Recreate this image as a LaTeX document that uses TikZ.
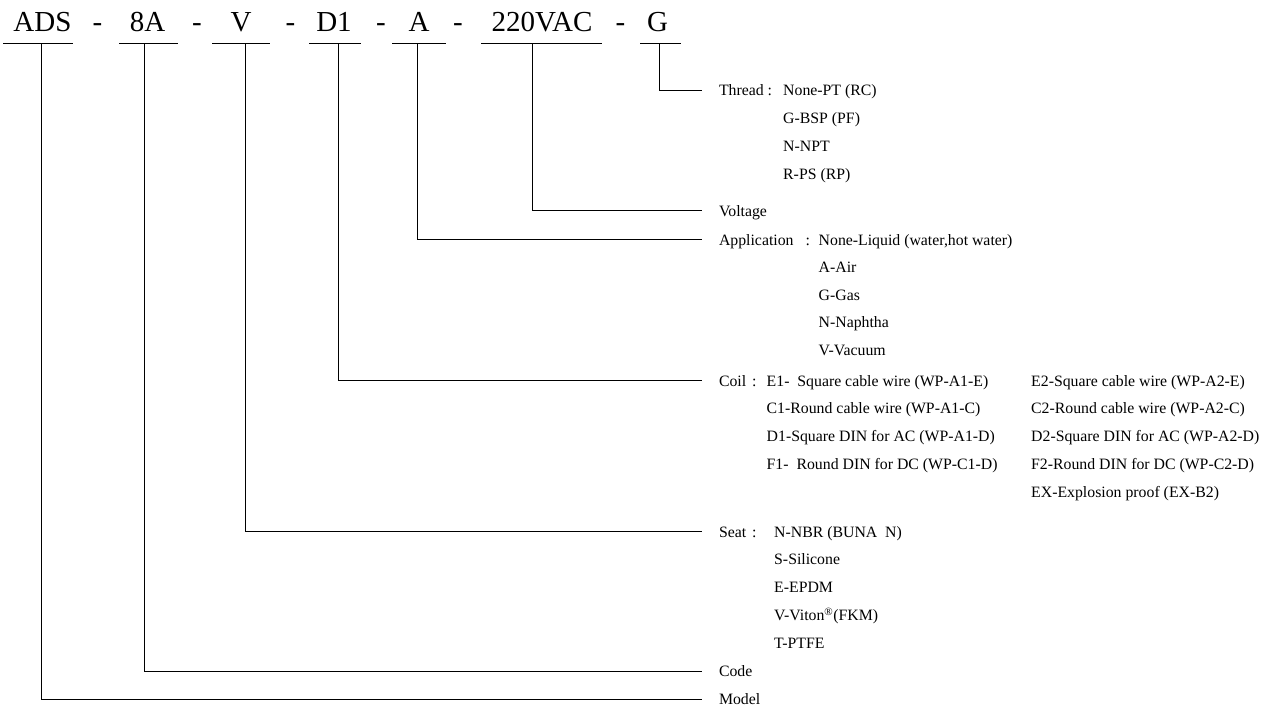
\documentclass[tikz,border=0pt]{standalone}
\usepackage{fontspec}
\setmainfont{Liberation Serif}
\begin{document}
\begin{tikzpicture}[x=1pt,y=-1pt,
    wire/.style={line width=0.8pt},
    partcode/.style={anchor=base,inner sep=0pt,font=\fontsize{29}{32}\selectfont},
    fieldname/.style={anchor=base west,inner sep=0pt,outer xsep=17pt,
        text height=10.6pt,text depth=0pt,font=\fontsize{15.8}{18}\selectfont},
    fieldopt/.style={anchor=base west,inner sep=0pt,font=\fontsize{15.8}{18}\selectfont}]
    \useasboundingbox (0,0) rectangle (1275,707);
    % model string
    \node[partcode] (ads) at (42.5,31.7) {ADS};
    \node[partcode] at (97.5,31.7) {-};
    \node[partcode] (code) at (147.5,31.7) {8A};
    \node[partcode] at (197,31.7) {-};
    \node[partcode] (seat) at (241,31.7) {V};
    \node[partcode] at (290.5,31.7) {-};
    \node[partcode] (coil) at (334,31.7) {D1};
    \node[partcode] at (381,31.7) {-};
    \node[partcode] (app) at (419,31.7) {A};
    \node[partcode] at (458,31.7) {-};
    \node[partcode] (volt) at (542,31.7) {220VAC};
    \node[partcode] at (620.5,31.7) {-};
    \node[partcode] (thr) at (657.5,31.7) {G};
    % underlines and taps
    \draw[wire] (3,43.3) -- (73,43.3);
    \draw[wire] (119,43.3) -- (178,43.3);
    \draw[wire] (212,43.3) -- (270,43.3);
    \draw[wire] (309,43.3) -- (361,43.3);
    \draw[wire] (392,43.3) -- (446,43.3);
    \draw[wire] (481,43.3) -- (602,43.3);
    \draw[wire] (640,43.3) -- (681,43.3);
    \coordinate (ads-tap) at (41.5,43.3);
    \coordinate (code-tap) at (144.5,43.3);
    \coordinate (seat-tap) at (245,43.3);
    \coordinate (coil-tap) at (338,43.3);
    \coordinate (app-tap) at (417,43.3);
    \coordinate (volt-tap) at (532,43.3);
    \coordinate (thr-tap) at (659.5,43.3);
    % Thread
    \node[fieldname] (thread) at (702,95.5) {Thread :};
    \node[fieldopt] at (783,95.5) {None-PT (RC)};
    \node[fieldopt] at (783,123.5) {G-BSP (PF)};
    \node[fieldopt] at (783,151.5) {N-NPT};
    \node[fieldopt] at (783,179.5) {R-PS (RP)};
    % Voltage
    \node[fieldname] (voltage) at (702,216) {Voltage};
    % Application
    \node[fieldname] (application) at (702,245) {Application\hspace{12pt}:};
    \node[fieldopt] at (818.5,245) {None-Liquid (water,hot water)};
    \node[fieldopt] at (818.5,272.6) {A-Air};
    \node[fieldopt] at (818.5,300.2) {G-Gas};
    \node[fieldopt] at (818.5,327.8) {N-Naphtha};
    \node[fieldopt] at (818.5,355.4) {V-Vacuum};
    % Coil
    \node[fieldname] (coiltype) at (702,386) {Coil\hspace{6pt}:};
    \node[fieldopt] at (766.5,386) {E1-\ \ Square cable wire (WP-A1-E)};
    \node[fieldopt] at (766.5,413.8) {C1-Round cable wire (WP-A1-C)};
    \node[fieldopt] at (766.5,441.6) {D1-Square DIN for AC (WP-A1-D)};
    \node[fieldopt] at (766.5,469.4) {F1-\ \ Round DIN for DC (WP-C1-D)};
    \node[fieldopt] at (1031,386) {E2-Square cable wire (WP-A2-E)};
    \node[fieldopt] at (1031,413.8) {C2-Round cable wire (WP-A2-C)};
    \node[fieldopt] at (1031,441.6) {D2-Square DIN for AC (WP-A2-D)};
    \node[fieldopt] at (1031,469.4) {F2-Round DIN for DC (WP-C2-D)};
    \node[fieldopt] at (1031,497.2) {EX-Explosion proof (EX-B2)};
    % Seat
    \node[fieldname] (seatmat) at (702,537) {Seat\hspace{6pt}:};
    \node[fieldopt] at (774,537) {N-NBR (BUNA\ \ N)};
    \node[fieldopt] at (774,564.8) {S-Silicone};
    \node[fieldopt] at (774,592.6) {E-EPDM};
    \node[fieldopt] at (774,620.4) {V-Viton\textsuperscript{\textregistered}(FKM)};
    \node[fieldopt] at (774,648.2) {T-PTFE};
    % Code and Model
    \node[fieldname] (codename) at (702,676.7) {Code};
    \node[fieldname] (model) at (702,704.2) {Model};
    % connectors
    \draw[wire] (thr-tap) |- (thread.west);
    \draw[wire] (volt-tap) |- (voltage.west);
    \draw[wire] (app-tap) |- (application.west);
    \draw[wire] (coil-tap) |- (coiltype.west);
    \draw[wire] (seat-tap) |- (seatmat.west);
    \draw[wire] (code-tap) |- (codename.west);
    \draw[wire] (ads-tap) |- (model.west);
\end{tikzpicture}
\end{document}
